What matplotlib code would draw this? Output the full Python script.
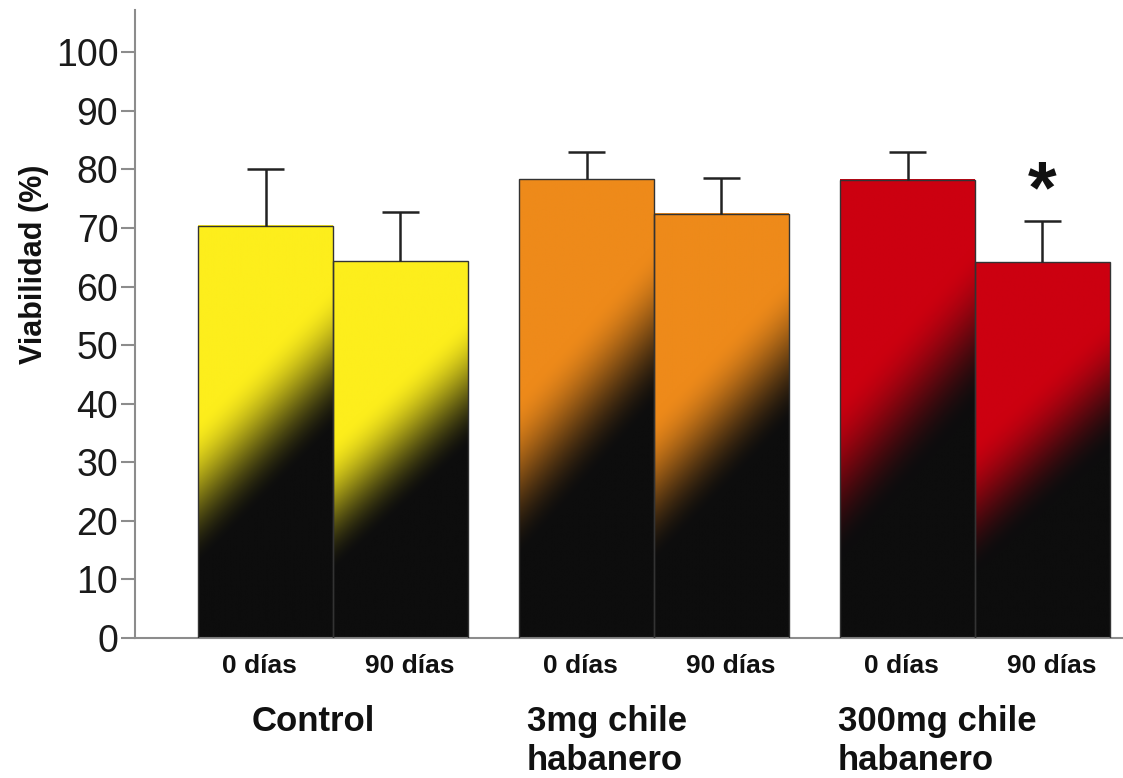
import numpy as np
import matplotlib
matplotlib.use("Agg")
import matplotlib.pyplot as plt

plt.rcParams['font.family'] = ['Liberation Sans', 'DejaVu Sans']

# datos
grupos = ["Control", "3mg chile\nhabanero", "300mg chile\nhabanero"]
tiempos = ["0 días", "90 días"]
viab_0 = [70.4, 78.3, 78.2]
viab_90 = [64.3, 72.4, 64.1]
err_0 = [9.6, 4.7, 4.8]
err_90 = [8.5, 6.1, 7.0]
colores = ["#FDEE1C", "#EE8A1A", "#CC0010"]
negro = np.array([13, 13, 13]) / 255.0

x_grupo = np.array([1.0, 2.0, 3.0])
ancho = 0.42
cap = 0.058


def hex_rgb(c):
    c = c.lstrip("#")
    return np.array([int(c[i:i + 2], 16) for i in (0, 2, 4)]) / 255.0


def barra_degradado(ax, x0, h, color, n=200):
    # degradado diagonal: color arriba-izquierda, negro abajo-derecha
    u = np.linspace(0, 1, n)[None, :]
    z = np.linspace(0, 1, n)[:, None]
    mid = 0.35 + 0.33 * u
    t = np.clip((z - mid) / 0.36 + 0.5, 0, 1)
    t = t * t * (3 - 2 * t)
    t = t[:, :, None]
    rgb = hex_rgb(color)[None, None, :] * t + negro[None, None, :] * (1 - t)
    ax.imshow(rgb, extent=[x0, x0 + ancho, 0, h], origin="lower",
              aspect="auto", interpolation="bilinear", zorder=2)
    ax.bar(x0, h, width=ancho, align="edge", fill=False,
           edgecolor="#333333", linewidth=1.0, zorder=3)


def error_sup(ax, xc, y, e):
    ax.vlines(xc, y, y + e, color="#222222", linewidth=1.8, zorder=4)
    ax.hlines(y + e, xc - cap, xc + cap, color="#222222", linewidth=1.8,
              zorder=4)


fig = plt.figure(figsize=(11.23, 7.78), dpi=100)
ax = fig.add_axes([135 / 1123, 140 / 778, 1 - 135 / 1123, 628 / 778])

for i in range(len(grupos)):
    x_izq = x_grupo[i] - ancho
    x_der = x_grupo[i]
    barra_degradado(ax, x_izq, viab_0[i], colores[i])
    barra_degradado(ax, x_der, viab_90[i], colores[i])
    error_sup(ax, x_izq + ancho / 2, viab_0[i], err_0[i])
    error_sup(ax, x_der + ancho / 2, viab_90[i], err_90[i])
    ax.text(x_izq + ancho / 2 - 0.02, -4.7, tiempos[0], ha="center",
            va="center", fontsize=19, fontweight="bold", color="#111111")
    ax.text(x_der + ancho / 2 + 0.03, -4.7, tiempos[1], ha="center",
            va="center", fontsize=19, fontweight="bold", color="#111111")

# etiquetas de grupo (alineadas a la izquierda)
x_etq = [252, 527, 838]
for i, g in enumerate(grupos):
    fig.text(x_etq[i] / 1123, 1 - 705 / 778, g, ha="left", va="top",
             fontsize=25, fontweight="bold", color="#111111", linespacing=1.22)

# asterisco de significancia
ax.text(x_grupo[2] + ancho / 2, 76.0, "*", ha="center", va="center",
        fontsize=53, fontweight="bold", color="#111111")

ax.set_xlim(0.383, 3.461)
ax.set_ylim(0, 107.2)
ax.set_yticks(np.arange(0, 101, 10))
ax.set_xticks([])
ax.tick_params(axis="y", length=10, width=1.5, color="#8c8c8c",
               labelsize=27, labelcolor="#1a1a1a", pad=2)
for s in ["top", "right"]:
    ax.spines[s].set_visible(False)
for s in ["left", "bottom"]:
    ax.spines[s].set_color("#8c8c8c")
    ax.spines[s].set_linewidth(1.5)

fig.text(34 / 1123, 1 - 264 / 778, "Viabilidad (%)", rotation=90,
         ha="center", va="center", fontsize=22, fontweight="bold",
         color="#111111")

plt.savefig("out.png", dpi=100)
